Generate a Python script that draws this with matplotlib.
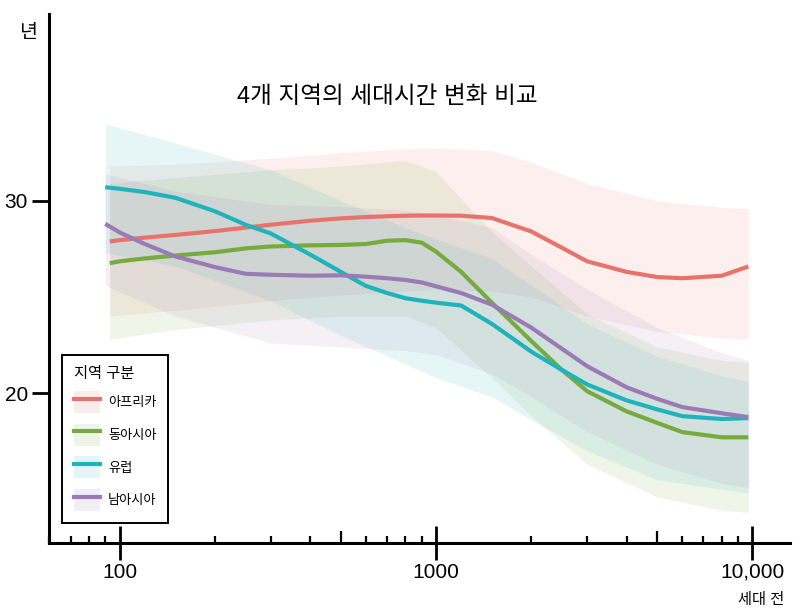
import matplotlib
matplotlib.use('Agg')
import matplotlib.pyplot as plt
from matplotlib.patches import Patch
from matplotlib.lines import Line2D
from matplotlib.ticker import LogLocator, FixedLocator, NullFormatter

plt.rcParams['font.family'] = ['Liberation Sans', 'Noto Sans CJK KR', 'DejaVu Sans']

regions = ['아프리카', '동아시아', '유럽', '남아시아']
colors = ['#e8736c', '#77ab3f', '#1fb4bc', '#9b7bb6']

# generations ago (x), line points
gen_tail = [100, 120, 150, 200, 250, 300, 400, 500, 600, 700, 800, 900, 1000,
            1200, 1500, 2000, 2500, 3000, 4000, 5000, 6000, 8000, 9700]
gen_early = [90] + gen_tail
gen_late = [93] + gen_tail

africa = [27.88, 27.95, 28.08, 28.22, 28.42, 28.6, 28.75, 28.96, 29.08, 29.15, 29.19, 29.22, 29.23,
          29.23, 29.22, 29.1, 28.4, 27.55, 26.85, 26.3, 26.03, 25.97, 26.1, 26.58]
east_asia = [26.75, 26.85, 27.0, 27.15, 27.32, 27.52, 27.62, 27.68, 27.7, 27.75, 27.92, 27.95, 27.82,
             27.35, 26.3, 24.7, 22.7, 21.2, 20.1, 19.05, 18.45, 17.97, 17.7, 17.7]
europe = [30.7, 30.62, 30.45, 30.15, 29.45, 28.75, 28.3, 27.2, 26.3, 25.57, 25.2, 24.93, 24.8,
          24.7, 24.55, 23.6, 22.15, 21.2, 20.45, 19.62, 19.15, 18.8, 18.65, 18.7]
south_asia = [28.8, 28.35, 27.75, 27.1, 26.55, 26.2, 26.15, 26.1, 26.12, 26.05, 25.97, 25.88, 25.75,
              25.55, 25.2, 24.6, 23.4, 22.3, 21.4, 20.3, 19.7, 19.27, 18.95, 18.75]

# uncertainty bands
band_tail = [150, 300, 500, 800, 1000, 1500, 2000, 3000, 5000, 8000, 9700]
band_early = [90] + band_tail
band_late = [93] + band_tail

africa_hi = [31.8, 31.9, 32.2, 32.5, 32.7, 32.75, 32.6, 32.0, 30.9, 30.0, 29.65, 29.6]
africa_lo = [24.0, 24.3, 24.8, 25.1, 25.3, 25.4, 25.3, 25.0, 24.0, 23.2, 22.85, 22.8]
east_asia_hi = [30.9, 31.2, 31.6, 31.8, 32.1, 31.5, 28.4, 26.6, 24.1, 22.4, 21.7, 21.6]
east_asia_lo = [22.8, 23.3, 23.8, 24.0, 24.0, 23.4, 20.8, 18.8, 16.3, 14.6, 13.9, 13.8]
europe_hi = [34.0, 33.0, 31.6, 30.0, 28.6, 28.0, 27.0, 25.6, 23.6, 21.9, 20.9, 20.6]
europe_lo = [27.3, 26.6, 24.8, 23.0, 21.5, 20.8, 19.8, 18.6, 17.0, 15.5, 15.0, 14.8]
south_asia_hi = [31.4, 30.5, 29.8, 29.7, 29.5, 29.3, 28.6, 27.2, 25.4, 23.4, 22.1, 21.7]
south_asia_lo = [25.6, 24.0, 22.6, 22.4, 22.2, 22.0, 21.0, 19.8, 18.0, 16.3, 15.3, 15.1]

series = [
    (gen_late, africa, band_late, africa_lo, africa_hi),
    (gen_late, east_asia, band_late, east_asia_lo, east_asia_hi),
    (gen_early, europe, band_early, europe_lo, europe_hi),
    (gen_early, south_asia, band_early, south_asia_lo, south_asia_hi),
]

fig = plt.figure(figsize=(8, 6.13), dpi=100)
ax = fig.add_axes([0.061, 0.114, 0.926, 0.863])

for (xs, ys, xb, lo, hi), c in zip(series, colors):
    ax.fill_between(xb, lo, hi, color=c, alpha=0.11, linewidth=0)
for (xs, ys, xb, lo, hi), c in zip(series, colors):
    ax.plot(xs, ys, color=c, lw=3, solid_capstyle='butt', solid_joinstyle='round')

ax.set_xscale('log')
ax.set_xlim(59.7, 13100)
ax.set_ylim(12.2, 39.7)

for s in ['top', 'right']:
    ax.spines[s].set_visible(False)
for s in ['left', 'bottom']:
    ax.spines[s].set_linewidth(2.2)

ax.set_xticks([100, 1000, 10000])
ax.set_xticklabels(['100', '1000', '10,000'])
ax.xaxis.set_minor_locator(LogLocator(base=10, subs=[2, 3, 4, 6, 7, 8, 9], numticks=20))
ax.xaxis.set_minor_formatter(NullFormatter())
ax.tick_params(axis='x', which='major', direction='inout', length=24, width=2,
               labelsize=15, pad=2)
ax.tick_params(axis='x', which='minor', direction='in', length=5, width=1.6)

sec = ax.secondary_xaxis('bottom')
sec.xaxis.set_major_locator(FixedLocator([500, 5000]))
sec.xaxis.set_minor_locator(FixedLocator([]))
sec.xaxis.set_major_formatter(NullFormatter())
sec.tick_params(direction='in', length=9, width=1.6)
sec.spines['bottom'].set_visible(False)

ax.set_yticks([20, 30])
ax.tick_params(axis='y', which='major', direction='out', length=12, width=2,
               labelsize=15, pad=3)
ax.yaxis.set_minor_locator(FixedLocator([]))

ax.text(0.457, 0.843, '4개 지역의 세대시간 변화 비교', transform=ax.transAxes,
        ha='center', va='center', fontsize=17)
fig.text(0.036, 0.945, '년', ha='center', va='center', fontsize=14)
fig.text(0.951, 0.021, '세대 전', ha='center', va='center', fontsize=11)

handles = []
for c in colors:
    handles.append((Patch(facecolor=c, alpha=0.12, edgecolor='none'),
                    Line2D([], [], color=c, lw=3)))
leg = ax.legend(handles, regions, title='지역 구분', loc='lower left',
                bbox_to_anchor=(0.0175, 0.038), borderaxespad=0,
                fontsize=9.5, title_fontsize=11, fancybox=False, framealpha=1,
                edgecolor='black', handlelength=2.0, handleheight=2.2,
                labelspacing=0.8, borderpad=0.9, handletextpad=0.6,
                alignment='left')
leg.get_frame().set_linewidth(1.4)

fig.savefig('out.png', dpi=100)
